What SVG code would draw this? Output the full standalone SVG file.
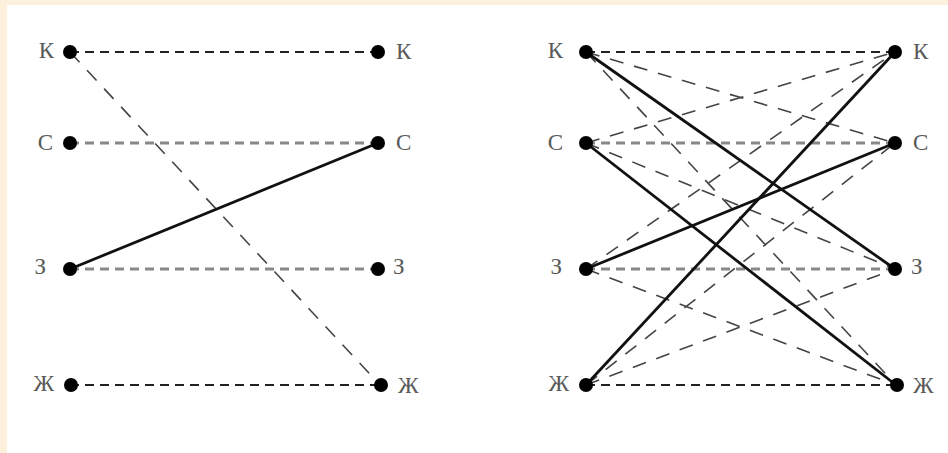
<svg xmlns="http://www.w3.org/2000/svg" width="948" height="453" viewBox="0 0 948 453">
<style>
.lbl{font-family:"Liberation Serif","DejaVu Serif",serif;font-size:23px;fill:#5a5a5a}
.dot{fill:#000}
.solid{stroke:#111;stroke-width:2.8;fill:none}
.hb{stroke:#222;stroke-width:2;stroke-dasharray:9 6;fill:none}
.hg{stroke:#888;stroke-width:3;stroke-dasharray:9 6;fill:none}
.dg{stroke:#444;stroke-width:1.6;stroke-dasharray:14 11;fill:none}
</style>
<rect x="0" y="0" width="948" height="453" fill="#fdf1dd"/>
<rect x="7" y="5" width="941" height="448" fill="#ffffff"/>
<g id="connectors">
  <line class="hb" x1="70" y1="52" x2="378" y2="52"/>
  <line class="hg" x1="70" y1="143" x2="378" y2="143"/>
  <line class="hg" x1="70" y1="269" x2="378" y2="269"/>
  <line class="hb" x1="70" y1="385" x2="380" y2="385"/>
  <line class="dg" x1="70" y1="52" x2="380" y2="385"/>
  <line class="solid" x1="70" y1="269" x2="378" y2="143"/>

  <line class="hb" x1="586" y1="52" x2="895" y2="52"/>
  <line class="hg" x1="586" y1="143" x2="895" y2="143"/>
  <line class="hg" x1="586" y1="269" x2="895" y2="269"/>
  <line class="hb" x1="586" y1="385" x2="896" y2="385"/>
  <line class="dg" x1="586" y1="52" x2="895" y2="143"/>
  <line class="dg" x1="586" y1="52" x2="896" y2="385"/>
  <line class="dg" x1="586" y1="143" x2="895" y2="52"/>
  <line class="dg" x1="586" y1="143" x2="895" y2="269"/>
  <line class="dg" x1="586" y1="269" x2="895" y2="52"/>
  <line class="dg" x1="586" y1="269" x2="896" y2="385"/>
  <line class="dg" x1="586" y1="385" x2="895" y2="143"/>
  <line class="dg" x1="586" y1="385" x2="895" y2="269"/>
  <line class="solid" x1="586" y1="52" x2="895" y2="269"/>
  <line class="solid" x1="586" y1="143" x2="896" y2="385"/>
  <line class="solid" x1="586" y1="269" x2="895" y2="143"/>
  <line class="solid" x1="586" y1="385" x2="895" y2="52"/>
</g>
<g id="L-K1"><circle class="dot" cx="70" cy="52" r="7"/><text class="lbl" x="54" y="58" text-anchor="end">К</text></g>
<g id="L-S1"><circle class="dot" cx="70" cy="143" r="7"/><text class="lbl" x="53" y="150" text-anchor="end">С</text></g>
<g id="L-Z1"><circle class="dot" cx="70" cy="269" r="7"/><text class="lbl" x="46" y="274" text-anchor="end">З</text></g>
<g id="L-Zh1"><circle class="dot" cx="71" cy="385" r="7"/><text class="lbl" x="54" y="391" text-anchor="end">Ж</text></g>
<g id="L-K2"><circle class="dot" cx="378" cy="52" r="7"/><text class="lbl" x="396" y="59">К</text></g>
<g id="L-S2"><circle class="dot" cx="378" cy="143" r="7"/><text class="lbl" x="396" y="150">С</text></g>
<g id="L-Z2"><circle class="dot" cx="378" cy="269" r="7"/><text class="lbl" x="393" y="274">З</text></g>
<g id="L-Zh2"><circle class="dot" cx="381" cy="385" r="7"/><text class="lbl" x="398" y="393">Ж</text></g>

<g id="R-K1"><circle class="dot" cx="586" cy="52" r="7"/><text class="lbl" x="563" y="58" text-anchor="end">К</text></g>
<g id="R-S1"><circle class="dot" cx="586" cy="143" r="7"/><text class="lbl" x="563" y="150" text-anchor="end">С</text></g>
<g id="R-Z1"><circle class="dot" cx="586" cy="269" r="7"/><text class="lbl" x="562" y="274" text-anchor="end">З</text></g>
<g id="R-Zh1"><circle class="dot" cx="586" cy="385" r="7"/><text class="lbl" x="569" y="391" text-anchor="end">Ж</text></g>
<g id="R-K2"><circle class="dot" cx="895" cy="52" r="7"/><text class="lbl" x="913" y="59">К</text></g>
<g id="R-S2"><circle class="dot" cx="895" cy="143" r="7"/><text class="lbl" x="913" y="150">С</text></g>
<g id="R-Z2"><circle class="dot" cx="895" cy="269" r="7"/><text class="lbl" x="911" y="274">З</text></g>
<g id="R-Zh2"><circle class="dot" cx="897" cy="385" r="7"/><text class="lbl" x="913" y="393">Ж</text></g>
</svg>
